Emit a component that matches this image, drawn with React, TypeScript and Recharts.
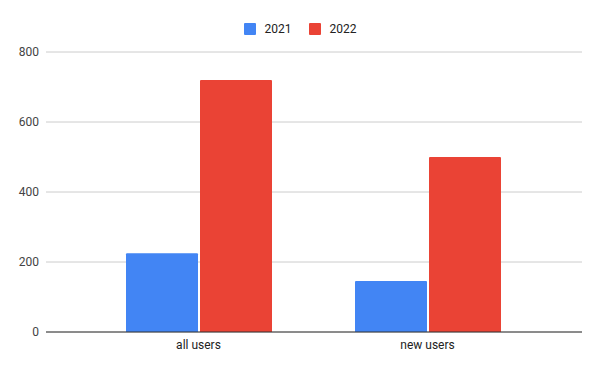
import { BarChart, Bar, XAxis, YAxis, CartesianGrid } from 'recharts'

const categories = ['all users', 'new users']
const years = ['2021', '2022']
const values2021 = [225, 146]
const values2022 = [720, 500]
const yTicks = [0, 200, 400, 600, 800]
const colors = ['#4285F4', '#EA4335']

const data = categories.map((name, i) => ({
  name,
  '2021': values2021[i],
  '2022': values2022[i],
}))

const font = 'Roboto, Arial, sans-serif'

export default function App() {
  return (
    <div style={{ position: 'relative', width: 600, height: 371, background: '#fff', fontFamily: font }}>
      <style>{'body{margin:0}'}</style>

      {/* legend */}
      <div
        style={{
          position: 'absolute',
          top: 21,
          left: 0,
          width: 600,
          display: 'flex',
          justifyContent: 'center',
          gap: 17,
          fontSize: 12,
          color: '#222',
          lineHeight: '16px',
        }}
      >
        {years.map((y, i) => (
          <div key={y} style={{ display: 'flex', alignItems: 'center', gap: 9 }}>
            <span style={{ width: 12, height: 12, background: colors[i], borderRadius: 1, display: 'inline-block' }} />
            <span>{y}</span>
          </div>
        ))}
      </div>

      <BarChart
        width={600}
        height={371}
        data={data}
        margin={{ top: 52, right: 18, bottom: 0, left: 0 }}
        barSize={72}
        barGap={2}
      >
        <CartesianGrid vertical={false} stroke="#cccccc" />
        <XAxis
          dataKey="name"
          height={39}
          padding={{ left: 38, right: 40 }}
          axisLine={{ stroke: '#333333' }}
          tickLine={false}
          tick={{ fontFamily: font, fontSize: 12, fill: '#222' }}
        />
        <YAxis
          width={46}
          domain={[0, 800]}
          ticks={yTicks}
          axisLine={false}
          tickLine={false}
          tickSize={5}
          tickMargin={2}
          tick={{ fontFamily: font, fontSize: 12, fill: '#444' }}
        />
        {years.map((y, i) => (
          <Bar key={y} dataKey={y} fill={colors[i]} radius={[1, 1, 0, 0]} isAnimationActive={false} />
        ))}
      </BarChart>
    </div>
  )
}
